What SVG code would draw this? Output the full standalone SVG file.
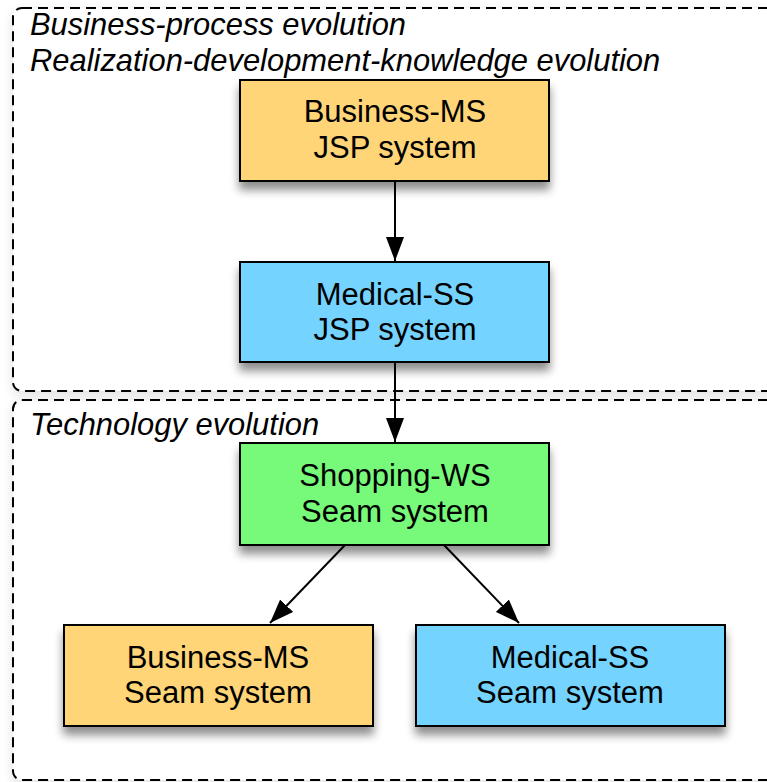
<svg xmlns="http://www.w3.org/2000/svg" width="767" height="782" viewBox="0 0 767 782">
<style>
.group{fill:#ffffff;stroke:#000;stroke-width:2;stroke-dasharray:10,6}
.lbl{font-family:"Liberation Sans",Arial,sans-serif;font-style:italic;font-size:30.9px;fill:#000}
.box{stroke:#000;stroke-width:2}
.txt{font-family:"Liberation Sans",Arial,sans-serif;font-size:31px;fill:#000;text-anchor:middle}
.orange{fill:#ffd578}
.blue{fill:#75d4ff}
.green{fill:#77f97a}
.conn{stroke:#000;stroke-width:2;fill:none;marker-end:url(#arrow)}
</style>
<defs>
<filter id="sh" x="-20%" y="-20%" width="140%" height="160%">
<feGaussianBlur in="SourceAlpha" stdDeviation="5"/>
<feOffset dx="0" dy="8" result="b"/>
<feComponentTransfer><feFuncA type="linear" slope="0.45"/></feComponentTransfer>
<feMerge><feMergeNode/><feMergeNode in="SourceGraphic"/></feMerge>
</filter>
<filter id="gsh" x="-10%" y="-10%" width="120%" height="120%">
<feGaussianBlur in="SourceAlpha" stdDeviation="6"/>
<feOffset dx="0" dy="4"/>
<feComponentTransfer><feFuncA type="linear" slope="0.12"/></feComponentTransfer>
<feMerge><feMergeNode/><feMergeNode in="SourceGraphic"/></feMerge>
</filter>
<marker id="arrow" viewBox="0 0 24 18" refX="24" refY="9" markerWidth="24" markerHeight="18" markerUnits="userSpaceOnUse" orient="auto">
<path d="M0,0 L24,9 L0,18 Z" fill="#000"/>
</marker>
</defs>
<rect width="767" height="782" fill="#ffffff"/>
<g id="group-technology">
<rect class="group" x="13" y="400" width="780" height="380" rx="9" filter="url(#gsh)"/>
<text class="lbl" x="30" y="435">Technology evolution</text>
</g>
<g id="group-business">
<rect class="group" x="13" y="8" width="780" height="383" rx="9" filter="url(#gsh)"/>
<text class="lbl" x="30" y="35">Business-process evolution</text>
<text class="lbl" x="30" y="71">Realization-development-knowledge evolution</text>
</g>
<g id="connectors">
<line class="conn" x1="395" y1="182" x2="395" y2="261"/>
<line class="conn" x1="395" y1="363" x2="395" y2="442"/>
<line class="conn" x1="345" y1="545" x2="270" y2="623"/>
<line class="conn" x1="444" y1="545" x2="519" y2="623"/>
</g>
<g id="node-business-jsp">
<rect class="box orange" x="240" y="80" width="309" height="101" filter="url(#sh)"/>
<text class="txt" x="395" y="122">Business-MS</text>
<text class="txt" x="395" y="158">JSP system</text>
</g>
<g id="node-medical-jsp">
<rect class="box blue" x="240" y="262" width="309" height="100" filter="url(#sh)"/>
<text class="txt" x="395" y="305">Medical-SS</text>
<text class="txt" x="395" y="340">JSP system</text>
</g>
<g id="node-shopping-seam">
<rect class="box green" x="240" y="443" width="309" height="102" filter="url(#sh)"/>
<text class="txt" x="395" y="486">Shopping-WS</text>
<text class="txt" x="395" y="522">Seam system</text>
</g>
<g id="node-business-seam">
<rect class="box orange" x="64" y="625" width="309" height="101" filter="url(#sh)"/>
<text class="txt" x="218" y="668">Business-MS</text>
<text class="txt" x="218" y="703">Seam system</text>
</g>
<g id="node-medical-seam">
<rect class="box blue" x="416" y="625" width="309" height="101" filter="url(#sh)"/>
<text class="txt" x="570" y="668">Medical-SS</text>
<text class="txt" x="570" y="703">Seam system</text>
</g>
</svg>
